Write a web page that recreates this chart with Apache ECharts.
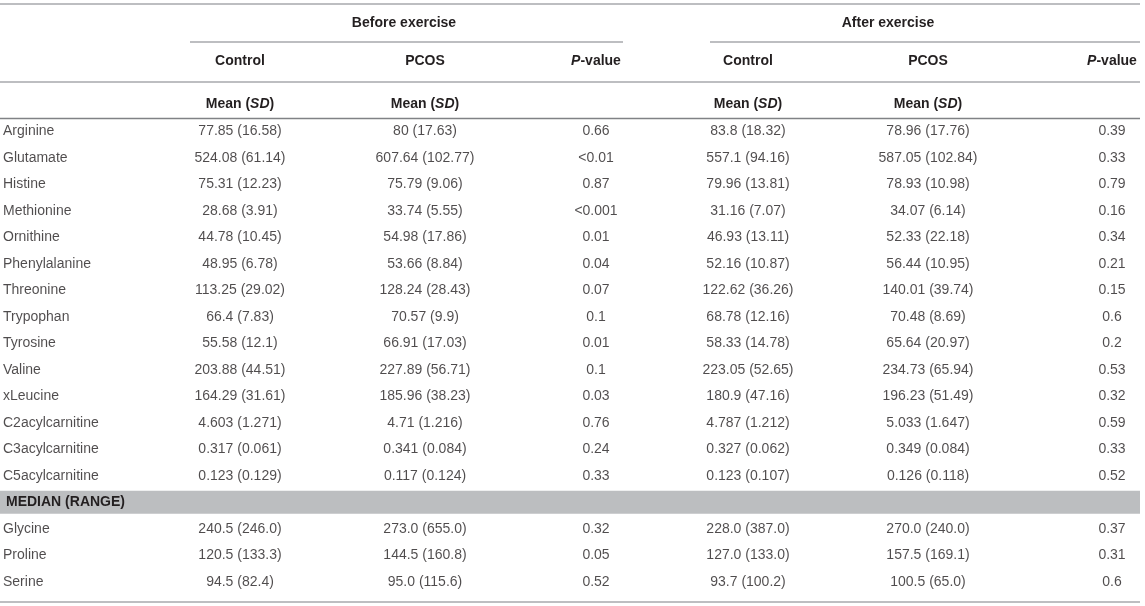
<!DOCTYPE html>
<html>
<head>
<meta charset="utf-8">
<script src="https://cdn.jsdelivr.net/npm/echarts@6.0.0/dist/echarts.min.js"></script>
<style>
  html, body { margin: 0; padding: 0; background: #fff; }
  #chart { width: 1145px; height: 606px; }
</style>
</head>
<body>
<div id="chart"></div>
<script>
// table content
var metabolites = ['Arginine', 'Glutamate', 'Histine', 'Methionine', 'Ornithine', 'Phenylalanine', 'Threonine',
  'Trypophan', 'Tyrosine', 'Valine', 'xLeucine', 'C2acylcarnitine', 'C3acylcarnitine', 'C5acylcarnitine'];
var sectionLabel = 'MEDIAN (RANGE)';
var medianRows = ['Glycine', 'Proline', 'Serine'];

var controlBefore = ['77.85 (16.58)', '524.08 (61.14)', '75.31 (12.23)', '28.68 (3.91)', '44.78 (10.45)', '48.95 (6.78)',
  '113.25 (29.02)', '66.4 (7.83)', '55.58 (12.1)', '203.88 (44.51)', '164.29 (31.61)', '4.603 (1.271)',
  '0.317 (0.061)', '0.123 (0.129)', '240.5 (246.0)', '120.5 (133.3)', '94.5 (82.4)'];
var pcosBefore = ['80 (17.63)', '607.64 (102.77)', '75.79 (9.06)', '33.74 (5.55)', '54.98 (17.86)', '53.66 (8.84)',
  '128.24 (28.43)', '70.57 (9.9)', '66.91 (17.03)', '227.89 (56.71)', '185.96 (38.23)', '4.71 (1.216)',
  '0.341 (0.084)', '0.117 (0.124)', '273.0 (655.0)', '144.5 (160.8)', '95.0 (115.6)'];
var pBefore = ['0.66', '<0.01', '0.87', '<0.001', '0.01', '0.04', '0.07', '0.1', '0.01', '0.1', '0.03', '0.76',
  '0.24', '0.33', '0.32', '0.05', '0.52'];
var controlAfter = ['83.8 (18.32)', '557.1 (94.16)', '79.96 (13.81)', '31.16 (7.07)', '46.93 (13.11)', '52.16 (10.87)',
  '122.62 (36.26)', '68.78 (12.16)', '58.33 (14.78)', '223.05 (52.65)', '180.9 (47.16)', '4.787 (1.212)',
  '0.327 (0.062)', '0.123 (0.107)', '228.0 (387.0)', '127.0 (133.0)', '93.7 (100.2)'];
var pcosAfter = ['78.96 (17.76)', '587.05 (102.84)', '78.93 (10.98)', '34.07 (6.14)', '52.33 (22.18)', '56.44 (10.95)',
  '140.01 (39.74)', '70.48 (8.69)', '65.64 (20.97)', '234.73 (65.94)', '196.23 (51.49)', '5.033 (1.647)',
  '0.349 (0.084)', '0.126 (0.118)', '270.0 (240.0)', '157.5 (169.1)', '100.5 (65.0)'];
var pAfter = ['0.39', '0.33', '0.79', '0.16', '0.34', '0.21', '0.15', '0.6', '0.2', '0.53', '0.32', '0.59',
  '0.33', '0.52', '0.37', '0.31', '0.6'];

var groupHeaders = ['Before exercise', 'After exercise'];
var columnHeaders = ['Control', 'PCOS', 'P-value', 'Control', 'PCOS', 'P-value'];

// layout (x positions on the hidden 0..1145 value axis)
var nameX = 3;
var colX = [240, 425, 596, 748, 928, 1112];
var groupX = [404, 888];
var tableRight = 1140;

var FONT = '"Liberation Sans", Arial, Helvetica, sans-serif';
var FS = 14;
var TXT = '#231f20';

var rows = metabolites.concat([sectionLabel], medianRows);
var dataRows = metabolites.concat(medianRows);
var columns = [controlBefore, pcosBefore, pBefore, controlAfter, pcosAfter, pAfter];

var cellData = [];
columns.forEach(function (col, c) {
  col.forEach(function (txt, i) {
    cellData.push([colX[c], dataRows[i], txt]);
  });
});
var nameData = dataRows.map(function (n) { return [nameX, n, n]; });

function hline(y, x1, x2, color, w) {
  return { type: 'line', shape: { x1: x1, y1: y, x2: x2, y2: y },
    style: { stroke: color, lineWidth: w }, silent: true };
}
function htext(x, y, rich) {
  return { type: 'text', x: x, y: y, silent: true,
    style: { text: rich, align: 'center', verticalAlign: 'middle',
      rich: {
        b: { fontFamily: FONT, fontSize: FS, fontWeight: 'bold', fill: TXT },
        bi: { fontFamily: FONT, fontSize: FS, fontWeight: 'bold', fontStyle: 'italic', fill: TXT }
      } } };
}
function headerRich(t) {
  if (t === 'P-value') return '{bi|P}{b|-value}';
  return '{b|' + t + '}';
}

var graphics = [
  hline(4, 0, tableRight, '#a7a9ac', 1.5),
  hline(42, 190, 623, '#a7a9ac', 1.5),
  hline(42, 710, tableRight, '#a7a9ac', 1.5),
  hline(82, 0, tableRight, '#a7a9ac', 1.5),
  hline(118.5, 0, tableRight, '#808285', 1.5),
  hline(602, 0, tableRight, '#a7a9ac', 1.5)
];
groupHeaders.forEach(function (g, i) { graphics.push(htext(groupX[i], 23, headerRich(g))); });
columnHeaders.forEach(function (h, i) { graphics.push(htext(colX[i], 61, headerRich(h))); });
[0, 1, 3, 4].forEach(function (i) { graphics.push(htext(colX[i], 104, '{b|Mean (}{bi|SD}{b|)}')); });

var chart = echarts.init(document.getElementById('chart'));
chart.setOption({
  animation: false,
  backgroundColor: '#fff',
  grid: { left: 0, right: 0, top: 118, height: 477 },
  xAxis: { type: 'value', min: 0, max: 1145, show: false },
  yAxis: { type: 'category', data: rows, inverse: true, show: false },
  graphic: graphics,
  series: [
    {
      type: 'bar',
      barWidth: 23,
      z: 1,
      silent: true,
      itemStyle: { color: '#bcbec0' },
      data: [[tableRight, sectionLabel]],
      label: {
        show: true, position: 'insideLeft', distance: 6, formatter: sectionLabel,
        fontFamily: FONT, fontSize: FS, fontWeight: 'bold', color: TXT
      }
    },
    {
      type: 'scatter',
      symbolSize: 0,
      z: 3,
      silent: true,
      data: nameData,
      label: {
        show: true, position: 'inside', align: 'left',
        formatter: function (p) { return p.value[2]; },
        fontFamily: FONT, fontSize: FS, color: TXT
      }
    },
    {
      type: 'scatter',
      symbolSize: 0,
      z: 3,
      silent: true,
      data: cellData,
      label: {
        show: true, position: 'inside', align: 'center',
        formatter: function (p) { return p.value[2]; },
        fontFamily: FONT, fontSize: FS, color: TXT
      }
    }
  ]
});
</script>
</body>
</html>
